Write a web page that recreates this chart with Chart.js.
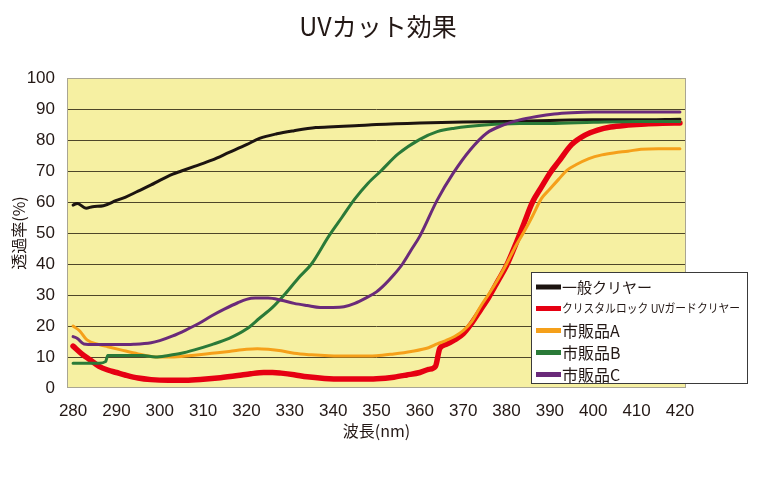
<!DOCTYPE html>
<html><head><meta charset="utf-8">
<script src="https://cdn.jsdelivr.net/npm/chart.js@4/dist/chart.umd.min.js"></script>
<style>html,body{margin:0;padding:0;background:#fff}</style>
</head><body>
<canvas id="c" width="760" height="500"></canvas>
<script>
const chartTitle = 'UVカット効果';
const xTitle = '波長(nm)';
const yTitle = '透過率(%)';
const xTicks = [280,290,300,310,320,330,340,350,360,370,380,390,400,410,420];
const seriesNames = ['一般クリヤー','クリスタルロック UVガードクリヤー','市販品A','市販品B','市販品C'];

const blackX = [280,281,283,284.5,287,290,292,295,298,300,303,305,308,312,316,320,323,327,331,336,340,345,350,360,370,380,390,400,410,420];
const blackY = [59,59.5,58,58.5,58.8,60.5,61.5,63.5,65.5,67,69,70,71.5,73.5,76,78.5,80.5,82,83,84,84.3,84.6,85,85.5,85.8,86,86.3,86.5,86.5,86.7];

const redX = [280,282,284,286,288,290,292,295,298,302,306,310,314,318,321,324,326,328,331,334,338,342,346,350,354,357,360,362,363.6,364.6,366,368,370,372,374,376,378,380,382,384,386,388,390,392,395,398,401,404,408,412,416,420];
const redY = [13.5,11,9,7,5.8,5,4.2,3.2,2.7,2.5,2.5,2.8,3.3,4,4.6,5,5,4.8,4.3,3.6,3.1,2.9,2.9,3,3.5,4.2,5,6,7,12.8,14,15.5,17.5,21,25.2,29.5,34.5,39.5,46,53,60,64.7,69.3,73,78.5,81.5,83.2,84.2,84.8,85.2,85.4,85.5];

const orangeX = [280,281.6,283.2,286,288,291,295,298.5,302,305,308,312,316,320,322.5,325,328,331,335,339,345,350,354,358,362,364,366,368,370,372,374,376,378,380,382,384,386,388,390,392,394,396,399,402,405,408,411,415,420];
const orangeY = [20,18.3,15.5,14,13.3,12.3,11,10.1,10,10.2,10.6,11.2,11.8,12.5,12.7,12.5,12,11.2,10.7,10.4,10.3,10.4,11,11.8,13,14.2,15.3,16.6,18.5,21.5,26.3,30.5,35,40,45.5,50.3,55.5,61,64.2,67.3,70.3,72,74,75.2,75.9,76.4,77,77.2,77.2];

const greenX = [280,283,286,287.5,288,292,296,299,302,305,308,312,316,320,323,326,329,332,335,339,342,345,348,351,355,360,364,368,375,383,390,400,410,420];
const greenY = [8,8,8,8.5,10.5,10.5,10.5,10,10.5,11.2,12.3,14,16,19,22.5,26,30.5,35.5,40,49,55,61,66,70,75.5,80.2,82.7,83.8,84.8,85.3,85.3,85.7,86,86];

const purpleX = [280,281,282.5,285,290,294,298,300,303,306,309,312,315,318,320,322,325,328,331,334,337,340,342.5,345,347.5,350,352,354,356,358,360,364,367.7,371.6,375.4,379.2,383,387,391,395,400,410,420];
const purpleY = [16.6,16,14.2,14,14,14.1,14.6,15.3,16.8,18.7,20.8,23.3,25.5,27.5,28.6,29,29,28.3,27.3,26.6,26,26,26.2,27.3,29,31,33.5,36.5,40,44.5,49,60.6,69.3,76.8,82.2,84.8,86.5,87.6,88.4,88.8,89,89,89];

const colors = ['#1c1410','#e60012','#f5a01a','#2a7a38','#6a2a7a'];
const widths = [3,5.5,3,3,3];

function pts(xs, ys){ return xs.map((x,i)=>({x:x, y:ys[i]})); }
const allX = [blackX, redX, orangeX, greenX, purpleX];
const allY = [blackY, redY, orangeY, greenY, purpleY];

const datasets = seriesNames.map((n,i)=>({
  label:n, data:pts(allX[i], allY[i]), borderColor:colors[i], backgroundColor:colors[i],
  borderWidth:widths[i], pointRadius:0, cubicInterpolationMode:'monotone',
  borderJoinStyle:'round', borderCapStyle:'round', order:5-i, fill:false
}));

const textColor = '#231815';
const jpFont = '"Noto Sans CJK JP", "Noto Sans", sans-serif';
const numFont = '"Liberation Sans", Arial, sans-serif';

const plotBg = {
  id:'plotBg',
  beforeDraw(chart){
    const {ctx, chartArea:a} = chart;
    ctx.save();
    ctx.fillStyle = '#f6f0a2';
    ctx.fillRect(a.left, a.top, a.right-a.left, a.bottom-a.top);
    ctx.restore();
  },
  beforeDatasetsDraw(chart){
    const {ctx, chartArea:a} = chart;
    ctx.save();
    ctx.strokeStyle = '#a9a593';
    ctx.lineWidth = 1;
    ctx.strokeRect(a.left+0.5, a.top+0.5, a.right-a.left-1, a.bottom-a.top-1);
    ctx.restore();
  }
};

const titleText = {
  id:'titleText',
  afterDraw(chart){
    const ctx = chart.ctx;
    ctx.save();
    ctx.fillStyle = textColor;
    ctx.font = '25px ' + jpFont;
    ctx.textAlign = 'center';
    ctx.textBaseline = 'middle';
    ctx.fillText(chartTitle, 378, 26);
    ctx.restore();
  }
};

const legendBox = {
  id:'legendBox',
  afterDraw(chart){
    const ctx = chart.ctx;
    const bx = 531, by = 272, bw = 217, bh = 112;
    ctx.save();
    ctx.fillStyle = '#ffffff';
    ctx.fillRect(bx, by, bw, bh);
    ctx.strokeStyle = '#3a3a3a';
    ctx.lineWidth = 1;
    ctx.strokeRect(bx+0.5, by+0.5, bw-1, bh-1);
    const rowsY = [287, 308.5, 330.5, 352.5, 374.5];
    const fonts = ['15px '+jpFont, '12px '+jpFont, '16px '+jpFont, '16px '+jpFont, '16px '+jpFont];
    chart.data.datasets.forEach((d,i)=>{
      const y = rowsY[i];
      ctx.strokeStyle = d.borderColor;
      ctx.lineWidth = 5;
      ctx.lineCap = 'butt';
      ctx.beginPath(); ctx.moveTo(536, y); ctx.lineTo(561, y); ctx.stroke();
      ctx.fillStyle = textColor;
      ctx.font = fonts[i];
      ctx.textBaseline = 'middle';
      ctx.textAlign = 'left';
      if (i === 1) ctx.fillText(d.label, 562, y, 178);
      else ctx.fillText(d.label, 562, y);
    });
    ctx.restore();
  }
};

new Chart(document.getElementById('c'), {
  type:'line',
  data:{datasets:datasets},
  plugins:[plotBg, titleText, legendBox],
  options:{
    responsive:false, animation:false, devicePixelRatio:1,
    layout:{padding:{left:0,right:74,top:78,bottom:0}},
    plugins:{
      legend:{display:false},
      tooltip:{enabled:false},
      title:{display:false}
    },
    scales:{
      x:{type:'linear', min:278.6, max:421.4,
        afterBuildTicks:s=>{ s.ticks = xTicks.map(v=>({value:v})); },
        afterFit:s=>{ s.height = 112; },
        grid:{display:false, drawTicks:false}, border:{display:false},
        ticks:{color:textColor, font:{family:numFont, size:17}, padding:13, autoSkip:false, maxRotation:0,
          callback:v=>String(v)},
        title:{display:true, text:xTitle, color:textColor, font:{family:jpFont, size:16, lineHeight:1.2}, padding:{top:0,bottom:59}}
      },
      y:{min:0, max:100,
        afterFit:s=>{ s.width = 67; },
        grid:{drawTicks:false, lineWidth:1,
          color:c=> (c.tick && (c.tick.value===0 || c.tick.value===100)) ? 'rgba(0,0,0,0)' : '#4e4628'},
        border:{display:false},
        ticks:{stepSize:10, color:textColor, font:{family:numFont, size:17}, padding:12},
        title:{display:true, text:yTitle, color:textColor, font:{family:jpFont, size:16, lineHeight:1.2}, padding:{top:9,bottom:0}}
      }
    }
  }
});
</script>
</body></html>
